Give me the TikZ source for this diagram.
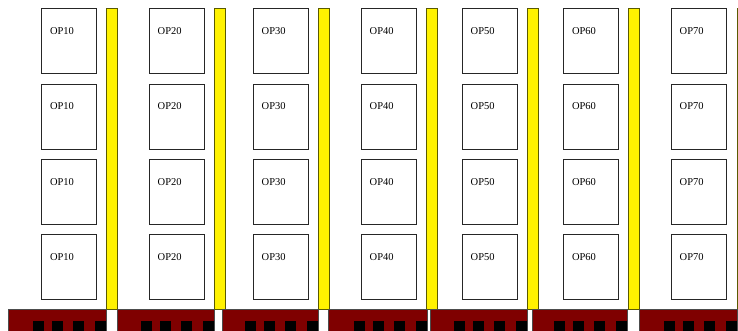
\documentclass[tikz,border=0pt]{standalone}
\usepackage{fontspec}
\setmainfont{Liberation Serif}
\usepackage{tikz}
\usetikzlibrary{positioning}
\definecolor{barred}{HTML}{7F0000}
\definecolor{baredge}{HTML}{5A5A00}
\tikzset{opbox/.style={draw=black!85,line width=0.9pt,fill=white,minimum width=54.5pt,minimum height=65pt,inner sep=0pt,anchor=north west},
  oplabel/.style={inner sep=0pt,font=\fontsize{10.5}{12}\selectfont},
  rail/.style={fill=yellow,draw=baredge,line width=0.8pt},
  base/.style={fill=barred,draw=black!70,line width=0.8pt},
  pad/.style={fill=black}}

\begin{document}
\begin{tikzpicture}[x=1pt,y=-1pt]
\clip (0,0) rectangle (738,330);
% yellow rails
\foreach \xr in {106,214,318,426,527,628,737}{\draw[rail] (\xr,8.3) rectangle ++(11,301.5);}
% base plates with pads
\foreach \xa/\xb in {8/106,117/214,222/318,328/427,430/527,532/627,639/737}{
  \draw[base] (\xa,309.8) rectangle (\xb,336);
  \foreach \d in {73.5,54.5,33.5,11.5}{\fill[pad] (\xb-\d,321) rectangle ++(11.5,15);}
}
% operation boxes
\foreach \c/\xb in {1/41.3,2/149,3/253,4/361,5/462,6/563.3,7/671}{
  \foreach \r in {0,1,2,3}{
    \node[opbox] (op\c-\r) at (\xb,8.3+75.3*\r) {};
    \node[oplabel,below right=19pt and 8.5pt of op\c-\r.north west] {OP\c0};
  }
}
\end{tikzpicture}
\end{document}
